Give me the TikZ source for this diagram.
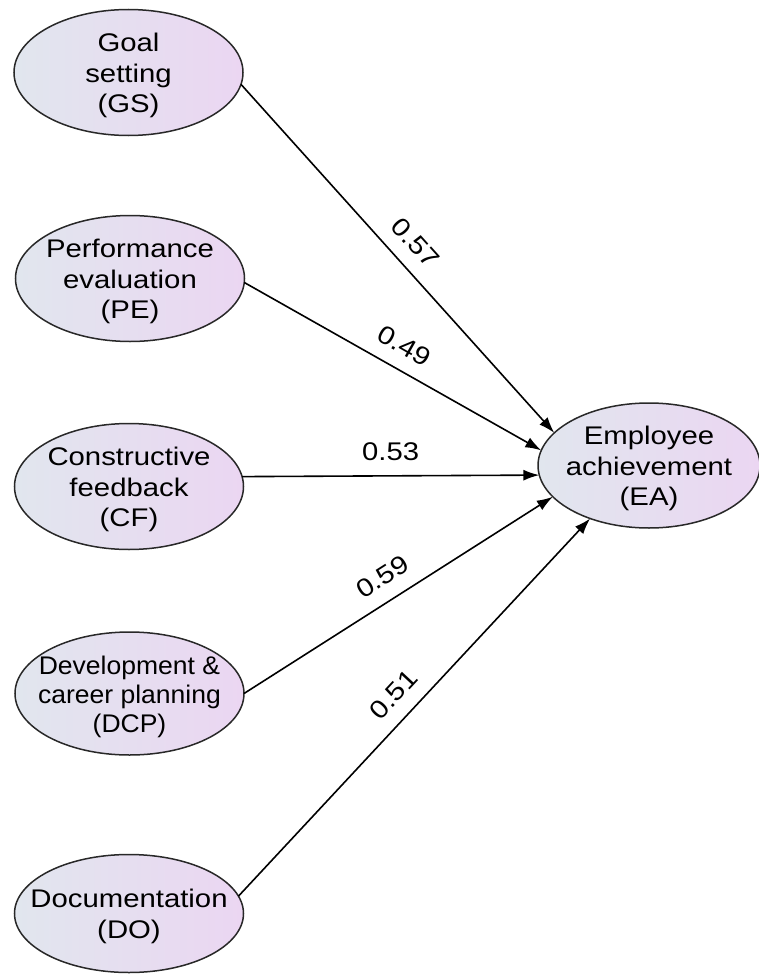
\documentclass[tikz,border=0pt]{standalone}
\usepackage{fontspec}
\setmainfont{Liberation Sans}[FakeStretch=1.15]
\newfontfamily\narrowsans{Liberation Sans}[FakeStretch=1.04]
\usetikzlibrary{shapes.geometric,arrows.meta}
\definecolor{shadeL}{RGB}{225,230,238}
\definecolor{shadeR}{RGB}{235,214,242}
\definecolor{rim}{RGB}{40,40,40}
\tikzset{
  ell/.style={ellipse, draw=rim, line width=1.5pt, left color=shadeL, right color=shadeR,
    inner sep=0pt, outer sep=0pt, minimum width=229pt, minimum height=126pt},
  big/.style={font=\fontsize{25.5}{30.5}\selectfont, align=center, text=black, yshift=-3pt},
  path/.style={line width=1.6pt, -{Latex[length=16pt,width=11pt]}},
  coef/.style={font=\fontsize{25.5}{30}\selectfont, sloped, above=10pt, inner sep=4pt, pos=0.5}
}
\begin{document}
\begin{tikzpicture}[x=1pt,y=-1pt]
\useasboundingbox (0,0) rectangle (758,974);
\node[ell, label={[big]center:Goal\\setting\\(GS)}] (GS) at (128.5,72.5) {};
\node[ell, label={[big]center:Performance\\evaluation\\(PE)}] (PE) at (130,278.5) {};
\node[ell, label={[big]center:Constructive\\feedback\\(CF)}] (CF) at (129,486.5) {};
\node[ell, minimum height=123pt, label={[big, font=\fontsize{25.5}{29}\narrowsans]center:Development \&\\career planning\\(DCP)}] (DCP) at (129.5,693.5) {};
\node[ell, minimum height=118pt, label={[big]center:Documentation\\(DO)}] (DO) at (129,913.5) {};
\node[ell, minimum width=222pt, minimum height=125pt, label={[big]center:Employee\\achievement\\(EA)}] (EA) at (649,465.5) {};
\draw[path] (GS.-6.3) -- node[coef] {0.57} (EA.161);
\draw[path] (PE.-2.2) -- node[coef] {0.49} (EA.172);
\draw[path] (CF.5.3) -- node[coef] {0.53} (EA.185.4);
\draw[path] (DCP.0) -- node[coef, pos=0.49] {0.59} (EA.198.2);
\draw[path] (DO.9.6) -- node[coef, pos=0.49] {0.51} (EA.222.7);
\end{tikzpicture}
\end{document}
